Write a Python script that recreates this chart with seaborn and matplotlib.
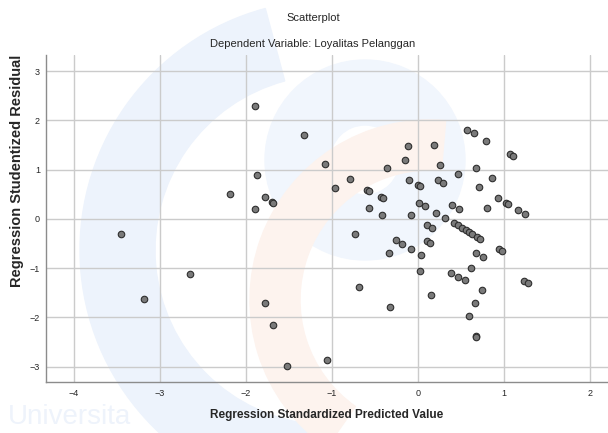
import pandas as pd
import seaborn as sns
import matplotlib.pyplot as plt
from matplotlib.patches import Wedge

sns.set_theme(style='whitegrid')
plt.rcParams['font.family'] = ['Liberation Sans', 'DejaVu Sans']

predicted = [
    -3.45, -3.18, -2.65, -2.19, -1.89, -1.87, -1.78, -1.70, -1.68, -1.89,
    -1.78, -1.69, -1.52, -1.33, -1.08, -1.06, -0.96, -0.79, -0.73, -0.69,
    -0.59, -0.57, -0.57, -0.43, -0.41, -0.42, -0.36, -0.34, -0.32, -0.26,
    -0.19, -0.15, -0.12, -0.10, -0.08, -0.08, 0.00, 0.02, 0.01, 0.04,
    0.02, 0.08, 0.11, 0.16, 0.11, 0.14, 0.15, 0.19, 0.21, 0.23,
    0.26, 0.29, 0.31, 0.39, 0.40, 0.415, 0.465, 0.512, 0.554, 0.593,
    0.624, 0.46, 0.47, 0.48, 0.55, 0.57, 0.59, 0.62, 0.65, 0.66,
    0.67, 0.67, 0.67, 0.68, 0.69, 0.72, 0.71, 0.74, 0.76, 0.79,
    0.80, 0.86, 0.93, 0.94, 0.98, 1.02, 1.05, 1.07, 1.10, 1.16,
    1.24, 1.23, 1.28,
]
residual = [
    -0.30, -1.63, -1.12, 0.51, 2.30, 0.89, 0.44, 0.35, 0.32, 0.21,
    -1.70, -2.16, -2.98, 1.71, 1.11, -2.86, 0.63, 0.82, -0.30, -1.38,
    0.59, 0.56, 0.23, 0.44, 0.42, 0.08, 1.04, -0.70, -1.79, -0.43,
    -0.50, 1.20, 1.48, 0.79, 0.08, -0.62, 0.68, 0.66, 0.32, -0.74,
    -1.06, 0.26, -0.12, -0.18, -0.45, -0.49, -1.55, 1.51, 0.13, 0.79,
    1.10, 0.72, 0.02, -1.09, 0.28, -0.075, -0.128, -0.183, -0.223, -0.257,
    -0.298, 0.91, -1.17, 0.20, -1.24, 1.81, -1.97, -0.99, 1.74, -1.70,
    1.03, -0.70, -2.38, -2.40, -0.36, -0.41, 0.64, -1.45, -0.77, 1.59,
    0.22, 0.84, 0.42, -0.62, -0.66, 0.32, 0.30, 1.31, 1.28, 0.19,
    0.10, -1.26, -1.30,
]
df = pd.DataFrame({'predicted': predicted, 'residual': residual})

x_ticks = [-4, -3, -2, -1, 0, 1, 2]
y_ticks = [-3, -2, -1, 0, 1, 2, 3]

# ## Graph
fig = plt.figure(figsize=(6.08, 4.33), dpi=100)
ax = fig.add_axes([0.075, 0.118, 0.925, 0.755])

# faint watermark behind the plot
wm = fig.add_axes([0, 0, 1, 1], zorder=-1)
wm.set_xlim(0, 608)
wm.set_ylim(433, 0)
wm.axis('off')
wm.add_patch(Wedge((330, 250), 250, 95, 255, width=75, color='#edf3fc'))
wm.add_patch(Wedge((365, 160), 100, 0, 360, width=65, color='#f1f6fd'))
wm.add_patch(Wedge((430, 300), 180, 125, 275, width=50, color='#fdf3ee'))
wm.text(8, 424, 'Universita', fontsize=20, color='#eef3fb', va='baseline')
ax.patch.set_alpha(0)

sns.scatterplot(x='predicted', y='residual', data=df, ax=ax,
                s=22, color='#7a7a7a', edgecolor='#2e2e2e', linewidth=0.8,
                zorder=3)

ax.set_xlim(-4.33, 2.21)
ax.set_ylim(-3.31, 3.33)
ax.set_xticks(x_ticks)
ax.set_yticks(y_ticks)
ax.grid(True, color='#cbcbcb', linewidth=1)
for side in ['top', 'right']:
    ax.spines[side].set_visible(False)
for side in ['left', 'bottom']:
    ax.spines[side].set_color('#8c8c8c')
    ax.spines[side].set_linewidth(1)
ax.tick_params(axis='y', length=3, color='#cbcbcb', labelsize=6.5, pad=1)
ax.tick_params(axis='x', length=0, labelsize=6.5, pad=5)

ax.set_xlabel('Regression Standardized Predicted Value', fontsize=8.5,
              fontweight='bold', labelpad=8)
ax.set_ylabel('Regression Studentized Residual', fontsize=10.5,
              fontweight='bold')
ax.yaxis.set_label_coords(-0.039, 0.645)

fig.text(0.515, 0.958, 'Scatterplot', ha='center', va='center', fontsize=8)
fig.text(0.515, 0.898, 'Dependent Variable: Loyalitas Pelanggan',
         ha='center', va='center', fontsize=8)

fig.savefig('out.png', dpi=100)
